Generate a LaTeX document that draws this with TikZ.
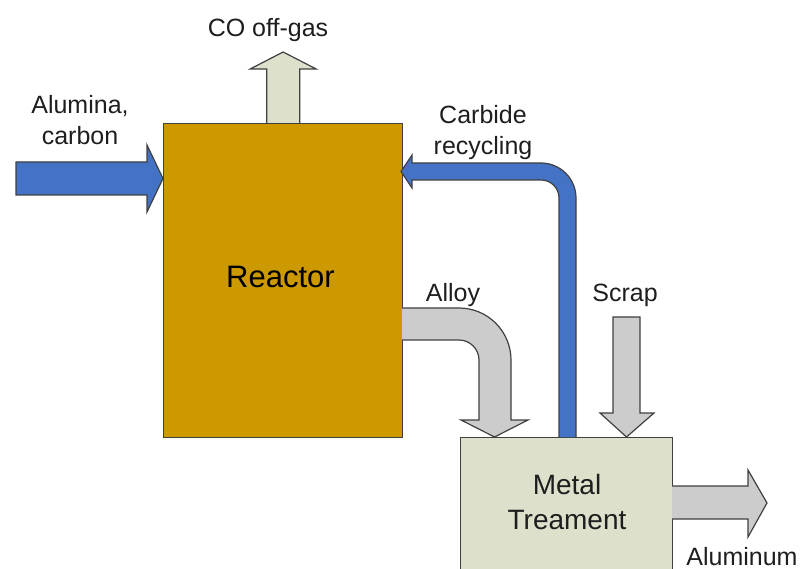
\documentclass[tikz,border=0pt]{standalone}
\usepackage{fontspec}
\setmainfont{Liberation Sans}
\usetikzlibrary{positioning}
\definecolor{reactorgold}{RGB}{204,153,0}
\definecolor{flowblue}{RGB}{68,114,196}
\definecolor{paleolive}{RGB}{221,225,204}
\definecolor{flowgray}{RGB}{204,204,204}
\definecolor{edgegray}{RGB}{64,64,64}
\definecolor{textgray}{RGB}{30,30,30}

\begin{document}
\begin{tikzpicture}[x=1pt, y=-1pt,
unit/.style={draw=edgegray, line width=1.3pt, inner sep=0pt},
flow/.style={draw=edgegray, line width=1.2pt, line join=miter},
lbl/.style={font=\fontsize{25}{31}\selectfont, text=textgray, align=center, inner sep=0pt, anchor=north}]

\useasboundingbox (0,0) rectangle (801,569);

% process units
\node[unit, fill=reactorgold, minimum width=239pt, minimum height=314pt, anchor=north west] (reactor) at (163,123) {};
\node[font=\fontsize{31}{37}\selectfont, inner sep=0pt, anchor=north] (reactortext) at (280.5,266) {Reactor};
\node[unit, fill=paleolive, minimum width=212pt, minimum height=150pt, anchor=north west] (metal) at (460,437) {};
\node[lbl, font=\fontsize{28}{35}\selectfont] (metaltext) at (567,474) {Metal\\Treament};

% streams
\filldraw[flow, fill=paleolive] ([xshift=-16.5pt]reactor.north) -- ++(0,-54) -- ++(-16.5,0) -- ++(33,-17) -- ++(33,17) -- ++(-16.5,0) -- ++(0,54);
\filldraw[flow, fill=flowblue] (16,162) -- (147,162) -- (147,145) -- (163,178.5) -- (147,212) -- (147,195) -- (16,195) -- cycle;
\filldraw[flow, fill=flowblue] (559,437) -- (559,198) .. controls (559,188) and (551,180) .. (541,180) -- (412,180) -- (412,188) -- (401,171.5) -- (412,155) -- (412,163) -- (541,163) .. controls (560.3,163) and (576,178.7) .. (576,198) -- (576,437);
\filldraw[flow, fill=flowgray] (402,308) -- (459,308) .. controls (487.7,308) and (511,331.3) .. (511,360) -- (511,420) -- (528,420) -- (494.5,437) -- (461,420) -- (479,420) -- (479,360) .. controls (479,349) and (470,340) .. (459,340) -- (402,340);
\filldraw[flow, fill=flowgray] (613,317) -- (640,317) -- (640,413) -- (654,413) -- (626.5,437) -- (600,413) -- (613,413) -- cycle;
\filldraw[flow, fill=flowgray] (672,486) -- (748,486) -- (748,470) -- (767,503) -- (748,537) -- (748,519) -- (672,519);

% stream labels
\node[lbl] (cogas) at (268,18) {CO off-gas};
\node[lbl] (feed) at (80,95) {Alumina,\\carbon};
\node[lbl] (carbide) at (483,105) {Carbide\\recycling};
\node[lbl] (alloy) at (453,283) {Alloy};
\node[lbl] (scrap) at (625,284) {Scrap};
\node[lbl] (aluminum) at (742,547) {Aluminum};
\end{tikzpicture}
\end{document}
